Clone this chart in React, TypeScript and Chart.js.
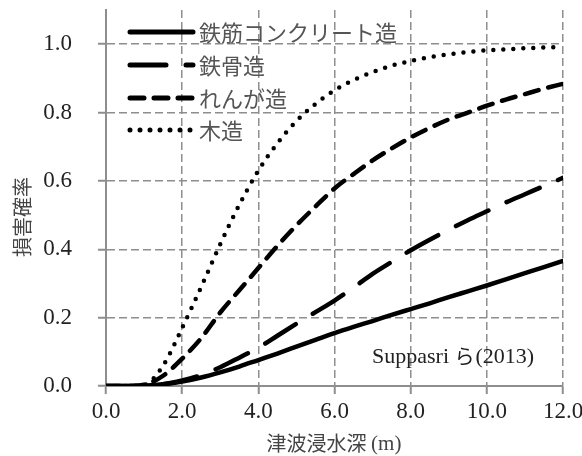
import React, { useEffect, useRef } from "react";
import { Chart, registerables } from "chart.js";

Chart.register(...registerables);

// Inundation depth (m)
const depths = [0, 0.5, 1.0, 1.5, 2.0, 2.5, 3.0, 3.5, 4.0, 4.5, 5.0, 5.5, 6.0, 6.5, 7.0, 7.5, 8.0, 8.5, 9.0, 9.5, 10.0, 10.5, 11.0, 11.5, 12.0];

// Damage probability by structure type
const rcValues = [0, 0, 0.001, 0.005, 0.013, 0.025, 0.04, 0.057, 0.076, 0.095, 0.115, 0.135, 0.155, 0.173, 0.19, 0.208, 0.225, 0.242, 0.26, 0.277, 0.294, 0.312, 0.33, 0.348, 0.366];
const steelValues = [0, 0, 0.001, 0.005, 0.016, 0.032, 0.055, 0.083, 0.112, 0.147, 0.182, 0.216, 0.25, 0.288, 0.328, 0.363, 0.397, 0.428, 0.457, 0.485, 0.511, 0.537, 0.561, 0.585, 0.609];
const brickValues = [0, 0, 0.004, 0.03, 0.08, 0.14, 0.215, 0.28, 0.345, 0.41, 0.47, 0.525, 0.578, 0.62, 0.66, 0.695, 0.727, 0.755, 0.78, 0.8, 0.82, 0.838, 0.854, 0.87, 0.884];
const woodValues = [0, 0, 0.003, 0.06, 0.17, 0.29, 0.415, 0.53, 0.63, 0.71, 0.775, 0.825, 0.865, 0.895, 0.918, 0.937, 0.951, 0.962, 0.97, 0.977, 0.982, 0.985, 0.988, 0.99, 0.992];

const seriesLabels = ["鉄筋コンクリート造", "鉄骨造", "れんが造", "木造"];
const seriesDashes: number[][] = [[], [36, 20], [14, 10], [0, 10]];

const xTitle = "津波浸水深";
const xUnit = "(m)";
const yTitle = "損害確率";

const GRID = "#8e8e8e";
const SERIF = "'Liberation Serif', 'DejaVu Serif', serif";
const JP = "'Noto Sans CJK JP', sans-serif";

const toPoints = (vals: number[]) => vals.map((v, i) => ({ x: depths[i], y: v }));

const decorations = {
  id: "decorations",
  afterDatasetsDraw(chart: any) {
    const ctx = chart.ctx as CanvasRenderingContext2D;
    ctx.save();
    // Legend
    const rows = [32, 65, 98, 130];
    seriesLabels.forEach((label, i) => {
      ctx.beginPath();
      ctx.strokeStyle = "#000";
      ctx.lineWidth = 5;
      ctx.lineCap = "round";
      ctx.setLineDash(seriesDashes[i]);
      ctx.moveTo(130, rows[i]);
      ctx.lineTo(193, rows[i]);
      ctx.stroke();
      ctx.setLineDash([]);
      ctx.fillStyle = "#555";
      ctx.font = `22px ${JP}`;
      ctx.textBaseline = "middle";
      ctx.textAlign = "left";
      ctx.fillText(label, 199, rows[i] + 1);
    });
    // Source note
    ctx.fillStyle = "#222";
    ctx.textBaseline = "middle";
    ctx.textAlign = "left";
    ctx.font = `22px ${SERIF}`;
    ctx.fillText("Suppasri", 372, 357);
    const w = ctx.measureText("Suppasri ").width;
    ctx.font = `20px ${JP}`;
    ctx.fillText("ら", 372 + w, 356);
    const w2 = ctx.measureText("ら").width;
    ctx.font = `22px ${SERIF}`;
    ctx.fillText("(2013)", 372 + w + w2 + 1, 357);
    // Axis titles
    ctx.fillStyle = "#444";
    ctx.font = `20px ${JP}`;
    const tw = ctx.measureText(xTitle + " ").width;
    ctx.font = `21px ${SERIF}`;
    const uw = ctx.measureText(xUnit).width;
    const x0 = 334 - (tw + uw) / 2;
    ctx.font = `20px ${JP}`;
    ctx.fillText(xTitle, x0, 443);
    ctx.font = `21px ${SERIF}`;
    ctx.fillText(xUnit, x0 + tw, 444);
    ctx.font = `20px ${JP}`;
    ctx.textAlign = "center";
    ctx.translate(22, 217);
    ctx.rotate(-Math.PI / 2);
    ctx.fillText(yTitle, 0, 0);
    ctx.restore();
  },
};

export default function App() {
  const ref = useRef<HTMLCanvasElement>(null);
  useEffect(() => {
    if (!ref.current) return;
    const datasets = [rcValues, steelValues, brickValues, woodValues].map((vals, i) => ({
      label: seriesLabels[i],
      data: toPoints(vals),
      borderColor: "#000",
      borderWidth: 4.5,
      borderDash: seriesDashes[i],
      borderCapStyle: "round" as const,
      pointRadius: 0,
      cubicInterpolationMode: "monotone" as const,
      fill: false,
    }));
    const chart = new Chart(ref.current, {
      type: "line",
      data: { datasets },
      options: {
        animation: false,
        responsive: false,
        layout: { padding: { left: 0, right: 19, top: 10, bottom: 0 } },
        plugins: { legend: { display: false }, tooltip: { enabled: false } },
        scales: {
          x: {
            type: "linear",
            min: 0,
            max: 12,
            afterFit: (s: any) => {
              s.height = 70;
              s.paddingLeft = 0;
              s.paddingRight = 0;
            },
            ticks: {
              stepSize: 2,
              color: "#222",
              font: { family: SERIF, size: 23 },
              padding: 4,
              maxRotation: 0,
              callback: (v: any) => Number(v).toFixed(1),
            },
            grid: {
              color: GRID,
              lineWidth: 1.5,
              tickLength: 8,
              tickBorderDash: [],
              tickColor: GRID,
              tickWidth: 2,
            } as any,
            border: { color: GRID, width: 2, dash: [8, 4] } as any,
          },
          y: {
            type: "linear",
            min: 0,
            max: 1.1,
            afterFit: (s: any) => {
              s.width = 106;
              s.paddingTop = 0;
              s.paddingBottom = 0;
            },
            ticks: {
              stepSize: 0.2,
              includeBounds: false,
              color: "#222",
              font: { family: SERIF, size: 23 },
              padding: 26,
              callback: (v: any) => Number(v).toFixed(1),
            },
            grid: {
              color: GRID,
              lineWidth: 1.5,
              tickLength: 8,
              tickBorderDash: [],
              tickColor: GRID,
              tickWidth: 2,
            } as any,
            border: { color: GRID, width: 2, dash: [8, 4] } as any,
          },
        },
      },
      plugins: [decorations],
    });
    return () => chart.destroy();
  }, []);
  return (
    <div style={{ position: "fixed", left: 0, top: 0, width: 582, height: 456, background: "#fff" }}>
      <canvas ref={ref} width={582} height={456} style={{ width: 582, height: 456 }} />
    </div>
  );
}
